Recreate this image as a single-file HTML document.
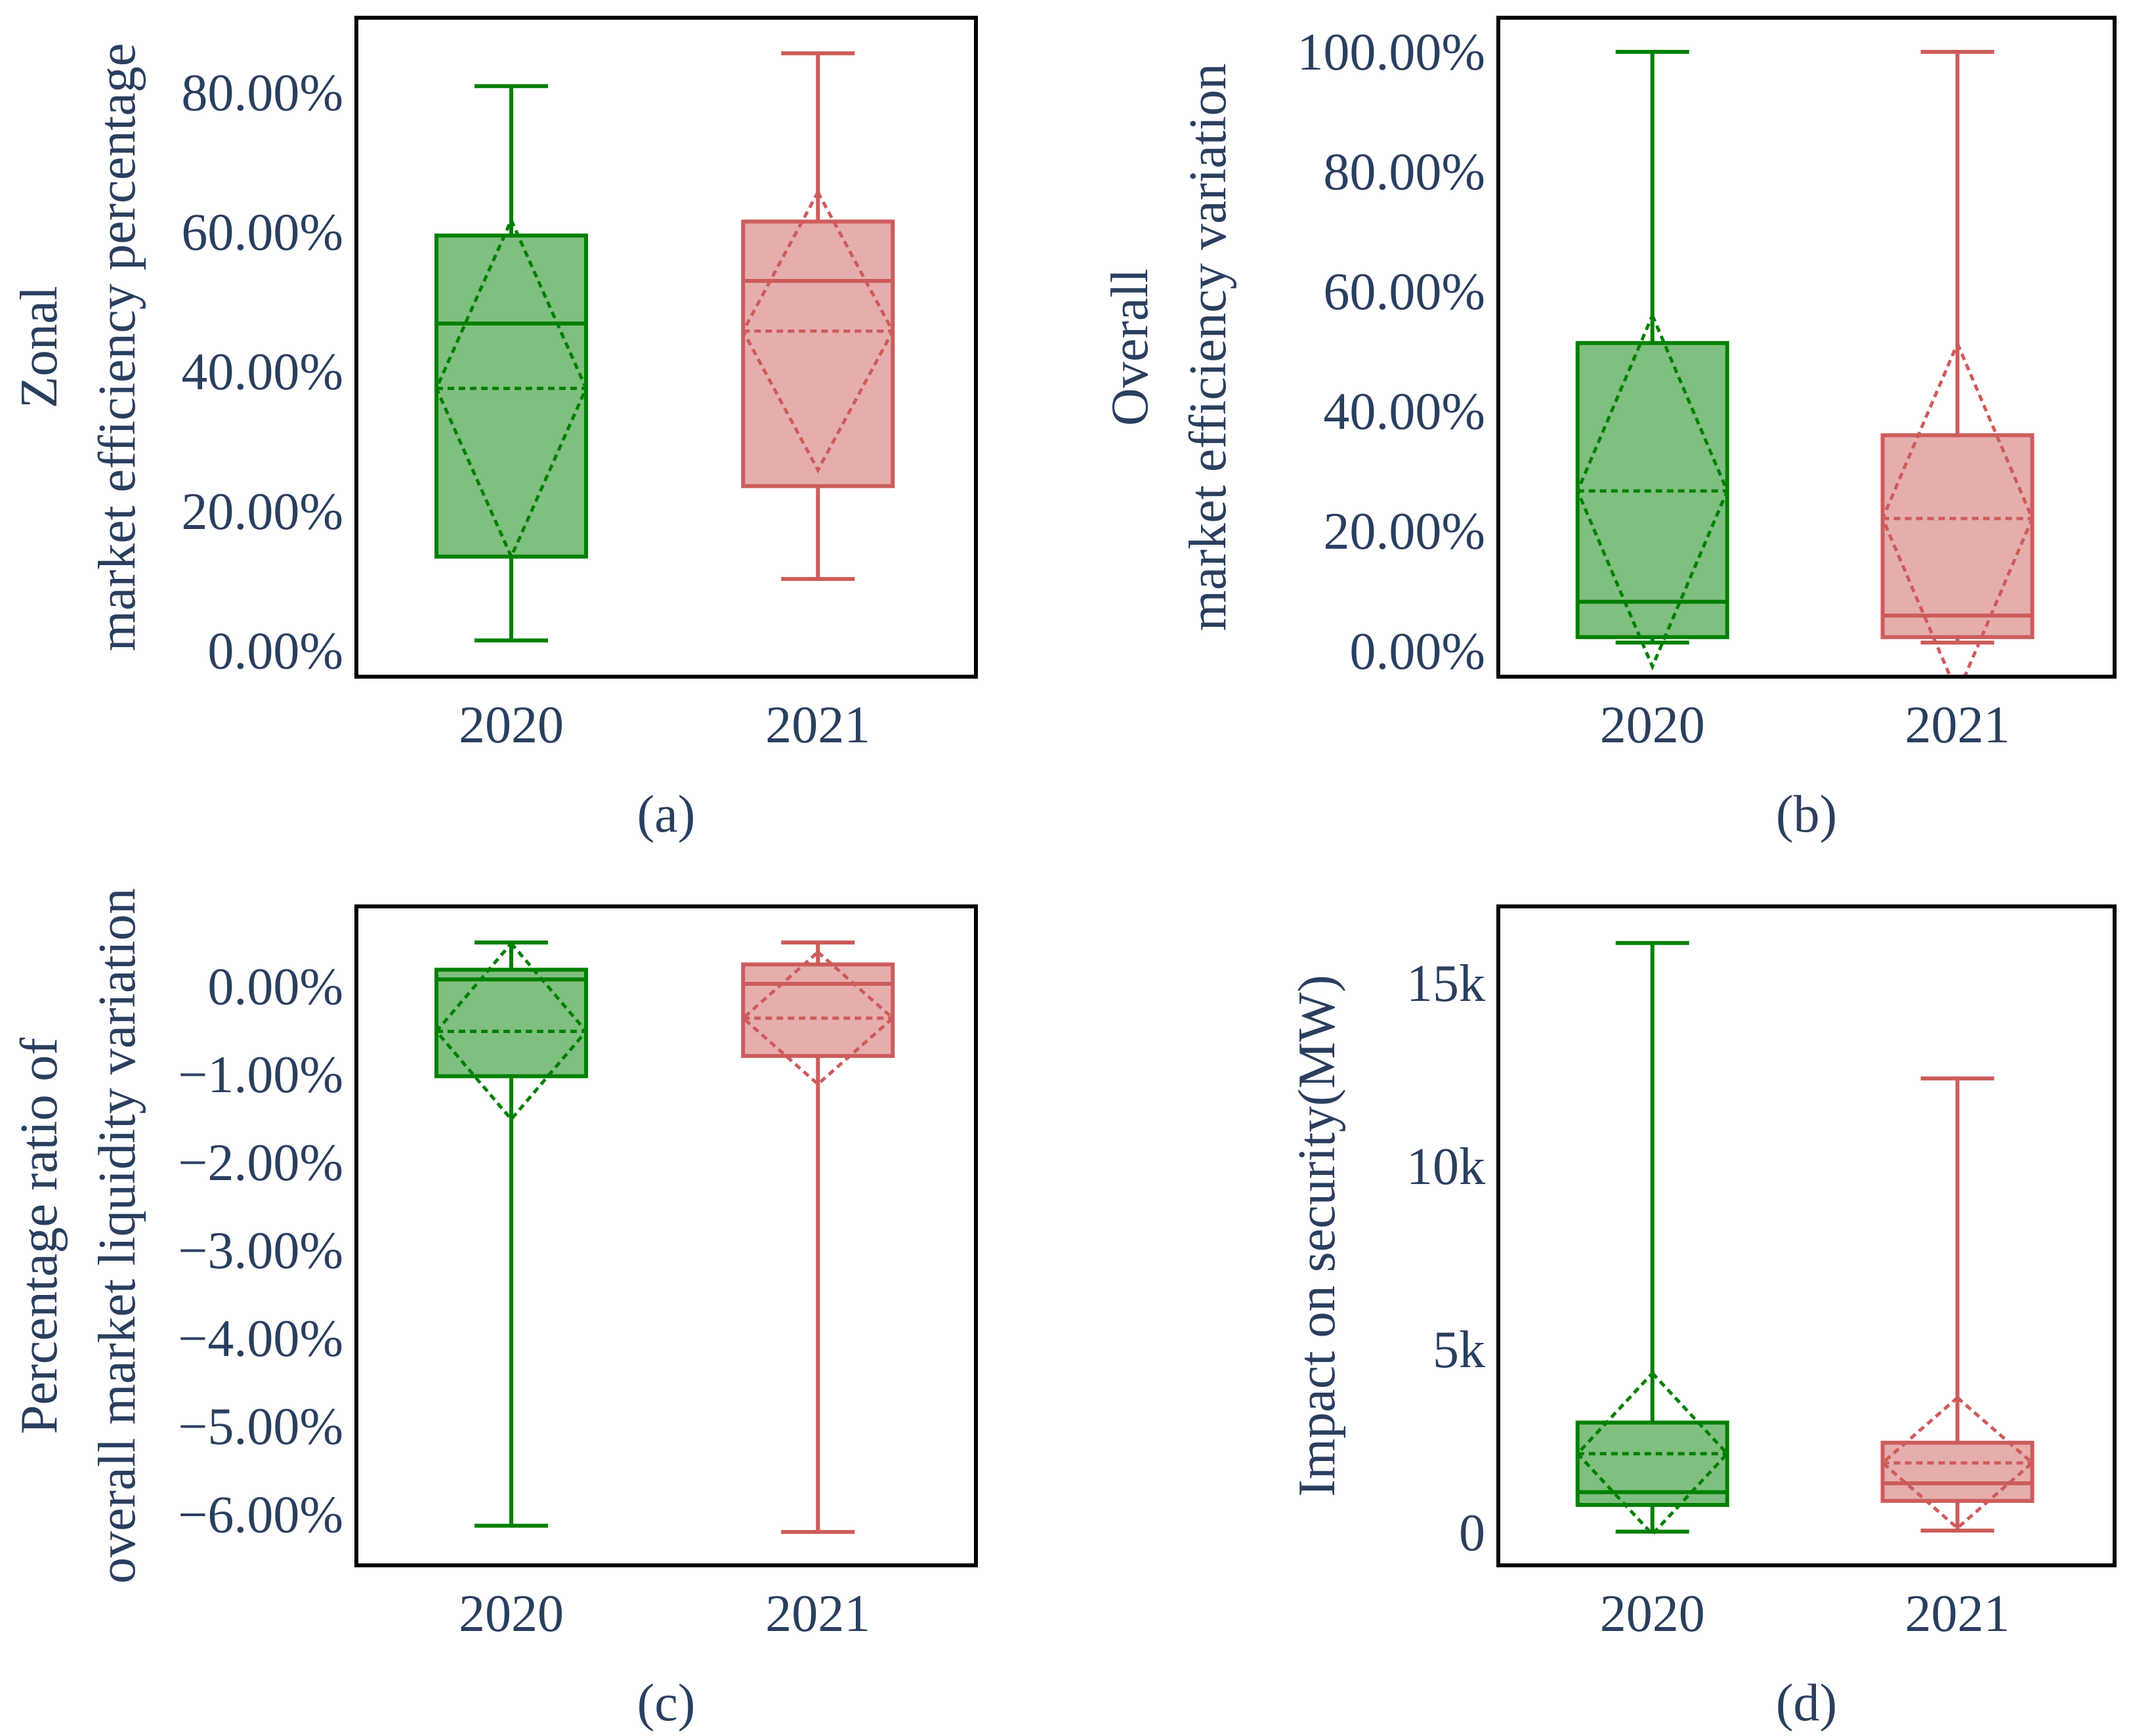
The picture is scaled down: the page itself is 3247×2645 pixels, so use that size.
<!DOCTYPE html>
<html><head><meta charset="utf-8"><style>
html,body{margin:0;padding:0;background:#fff;}
svg{display:block;font-family:"Liberation Serif",serif;}
</style></head><body>
<svg id="fig" width="3247" height="2645" viewBox="0 0 3247 2645" xmlns="http://www.w3.org/2000/svg"></svg>
<script>
// ---- data ----
const categories = ["2020", "2021"];
// panel a: Zonal market efficiency percentage (%)
const aLow = [1.5, 10.3];
const aQ1 = [13.5, 23.6];
const aMed = [46.9, 53.0];
const aQ3 = [59.5, 61.5];
const aHigh = [80.9, 85.6];
const aMean = [37.6, 45.8];
const aSd = [24.1, 19.9];
const aTicks = [0, 20, 40, 60, 80];
// panel b: Overall market efficiency variation (%)
const bLow = [1.4, 1.4];
const bQ1 = [2.3, 2.3];
const bMed = [8.2, 5.9];
const bQ3 = [51.4, 36.0];
const bHigh = [100, 100];
const bMean = [26.7, 22.1];
const bSd = [29.3, 29.2];
const bTicks = [0, 20, 40, 60, 80, 100];
// panel c: Percentage ratio of overall market liquidity variation (%)
const cLow = [-6.13, -6.2];
const cQ1 = [-1.02, -0.79];
const cMed = [0.08, 0.03];
const cQ3 = [0.19, 0.25];
const cHigh = [0.5, 0.5];
const cMean = [-0.51, -0.36];
const cSd = [1.0, 0.75];
const cTicks = [0, -1, -2, -3, -4, -5, -6];
// panel d: Impact on security (MW)
const dLow = [20, 50];
const dQ1 = [750, 860];
const dMed = [1100, 1340];
const dQ3 = [3000, 2450];
const dHigh = [16100, 12400];
const dMean = [2150, 1900];
const dSd = [2200, 1780];
const dTicks = [0, 5000, 10000, 15000];

const NS = "http://www.w3.org/2000/svg";
const svg = document.getElementById("fig");
const GREEN = "#008000", RED = "#cd5c5c";
const FILL = ["rgba(0,128,0,0.5)", "rgba(205,92,92,0.5)"];
const LINE = [GREEN, RED];
const TXT = "#2a3f5f";

function mk(tag, attrs, parent) {
  const e = document.createElementNS(NS, tag);
  for (const k in attrs) e.setAttribute(k, attrs[k]);
  (parent || svg).appendChild(e);
  return e;
}

function panel(p) {
  const g = mk("g", {});
  
  
  const y = v => p.y1 + (v - p.vmin) / (p.vmax - p.vmin) * (p.y0 - p.y1);
  const x = i => p.x0 + (p.x1 - p.x0) * (i === 0 ? 0.25 : 0.745);
  const clipId = "clip" + p.id;
  const cp = mk("clipPath", { id: clipId }, g);
  mk("rect", { x: p.x0, y: p.y0, width: p.x1 - p.x0, height: p.y1 - p.y0 }, cp);
  const plot = mk("g", { "clip-path": "url(#" + clipId + ")" }, g);
  
  
  const hw = 114, cw = 56;
  for (let i = 0; i < categories.length; i++) {
    const cx = x(i), col = LINE[i];
    const bg = mk("g", {}, plot);
    
    
    const s = { stroke: col, "stroke-width": 6, fill: "none" };
    const w1 = mk("line", Object.assign({ x1: cx, x2: cx, y1: y(p.q3[i]), y2: y(p.high[i]) }, s), bg);
    
    
    const w2 = mk("line", Object.assign({ x1: cx, x2: cx, y1: y(p.q1[i]), y2: y(p.low[i]) }, s), bg);
    
    
    const c1 = mk("line", Object.assign({ x1: cx - cw, x2: cx + cw, y1: y(p.high[i]), y2: y(p.high[i]) }, s), bg);
    
    
    const c2 = mk("line", Object.assign({ x1: cx - cw, x2: cx + cw, y1: y(p.low[i]), y2: y(p.low[i]) }, s), bg);
    
    
    const r = mk("rect", { x: cx - hw, y: y(p.q3[i]), width: 2 * hw, height: y(p.q1[i]) - y(p.q3[i]), fill: FILL[i], stroke: col, "stroke-width": 6 }, bg);
    
    
    const m = mk("line", Object.assign({ x1: cx - hw, x2: cx + hw, y1: y(p.med[i]), y2: y(p.med[i]) }, s), bg);
    
    
    const ds = { stroke: col, "stroke-width": 5, fill: "none", "stroke-dasharray": "10,7" };
    const mn = mk("line", Object.assign({ x1: cx - hw, x2: cx + hw, y1: y(p.mean[i]), y2: y(p.mean[i]) }, ds), bg);
    
    
    const dm = mk("polygon", Object.assign({ points: [cx, y(p.mean[i] + p.sd[i]), cx + hw, y(p.mean[i]), cx, y(p.mean[i] - p.sd[i]), cx - hw, y(p.mean[i])].join(" ") }, ds), bg);
    
    
  }
  const fr = mk("rect", { x: p.x0, y: p.y0, width: p.x1 - p.x0, height: p.y1 - p.y0, fill: "none", stroke: "#000", "stroke-width": 6 }, g);
  
  
  for (const t of p.ticks) {
    const tt = mk("text", { x: p.x0 - 20, y: y(t) + 27, "text-anchor": "end", "font-size": 80, fill: TXT }, g);
    tt.textContent = p.fmt(t);
    
    
  }
  for (let i = 0; i < categories.length; i++) {
    const xt = mk("text", { x: x(i), y: p.y1 + 100, "text-anchor": "middle", "font-size": 80, fill: TXT }, g);
    xt.textContent = categories[i];
    
    
  }
  const cyc = (p.y0 + p.y1) / 2;
  p.title.forEach((line, k) => {
    const tx = p.titleX[k];
    const t = mk("text", { x: tx, y: cyc, "text-anchor": "middle", "font-size": 80, fill: TXT, transform: "rotate(-90 " + tx + " " + cyc + ")" }, g);
    t.textContent = line;
    
    
  });
  const sc = mk("text", { x: (p.x0 + p.x1) / 2, y: p.y1 + 236, "text-anchor": "middle", "font-size": 80, fill: TXT }, g);
  sc.textContent = "(" + p.id + ")";
  
  
}

const pct = v => v.toFixed(2) + "%";
const pctc = v => (v < 0 ? "\u2212" + Math.abs(v).toFixed(2) : v.toFixed(2)) + "%";
const kf = v => v === 0 ? "0" : (v / 1000) + "k";

panel({ id: "a", x0: 543, x1: 1487, y0: 27, y1: 1031, vmin: -3.7, vmax: 90.7,
  low: aLow, q1: aQ1, med: aMed, q3: aQ3, high: aHigh, mean: aMean, sd: aSd, ticks: aTicks, fmt: pct,
  title: ["Zonal", "market efficiency percentage"], titleX: [86, 205] });
panel({ id: "b", x0: 2283, x1: 3222, y0: 27, y1: 1031, vmin: -4.3, vmax: 105.7,
  low: bLow, q1: bQ1, med: bMed, q3: bQ3, high: bHigh, mean: bMean, sd: bSd, ticks: bTicks, fmt: pct,
  title: ["Overall", "market efficiency variation"], titleX: [1748, 1867] });
panel({ id: "c", x0: 543, x1: 1487, y0: 1381, y1: 2385, vmin: -6.58, vmax: 0.91,
  low: cLow, q1: cQ1, med: cMed, q3: cQ3, high: cHigh, mean: cMean, sd: cSd, ticks: cTicks, fmt: pctc,
  title: ["Percentage ratio of", "overall market liquidity variation"], titleX: [86, 205] });
panel({ id: "d", x0: 2283, x1: 3222, y0: 1381, y1: 2385, vmin: -900, vmax: 17100,
  low: dLow, q1: dQ1, med: dMed, q3: dQ3, high: dHigh, mean: dMean, sd: dSd, ticks: dTicks, fmt: kf,
  title: ["Impact on security(MW)"], titleX: [2033] });
</script>
</body></html>
